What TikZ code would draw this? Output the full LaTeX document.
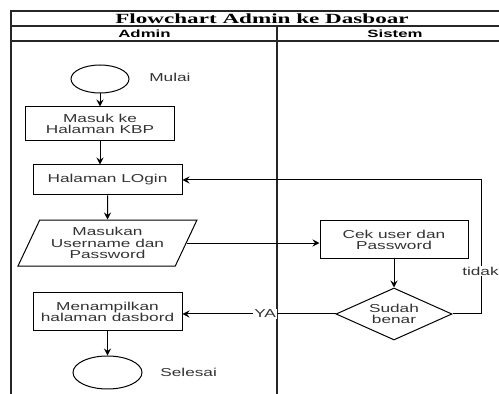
\documentclass[tikz,border=0pt]{standalone}
\usepackage{fontspec}
\newfontfamily\boxfont[FakeStretch=1.5]{Liberation Sans}
\newfontfamily\headfont[FakeStretch=1.6]{Liberation Sans}
\newfontfamily\titlefont[FakeStretch=1.65]{Liberation Serif}
\usetikzlibrary{positioning,arrows.meta,shapes.geometric}
\tikzset{
flow/.style={
    >={Stealth[length=7pt,width=7pt,inset=2.5pt]},
    x=1pt,
    y=1pt,
    line width=1pt,
    font=\boxfont\fontsize{11.5}{11.5}\selectfont,
    text=black!80
},
proc/.style={
    rectangle,
    draw,
    minimum width=149pt,
    align=center,
    inner sep=1pt
},
term/.style={
    ellipse,
    draw,
    inner sep=0pt
},
io/.style={
    trapezium,
    trapezium left angle=57,
    trapezium right angle=123,
    trapezium stretches body,
    draw,
    align=center,
    minimum width=179pt,
    minimum height=46pt,
    inner sep=1pt
},
check/.style={
    diamond,
    draw,
    aspect=2.3,
    align=center,
    minimum width=116pt,
    minimum height=52pt,
    inner sep=0pt
},
goes/.style={
    ->
},
lane/.style={
    line width=1.2pt,
    black!85
},
tag/.style={
    fill=white,
    inner sep=1pt
}}

\begin{document}
\begin{tikzpicture}[flow]
\useasboundingbox (0,0) rectangle (499,394);

% swimlane frame
\draw[lane, line width=2.5pt] (11,0) -- (11,384);
\draw[lane] (11,383) -- (499,383);
\draw[lane] (11,368) -- (499,368);
\draw[lane] (11,353) -- (499,353);
\draw[lane] (277,368) -- (277,0);
\node (judul)  at (262,375.5) {\titlefont\bfseries\fontsize{14}{14}\selectfont\color{black}Flowchart Admin ke Dasboar};
\node (admin)  at (144.5,360.5) {\headfont\bfseries\fontsize{10.5}{10.5}\selectfont\color{black}Admin};
\node (sistem) at (395,360.5)   {\headfont\bfseries\fontsize{10.5}{10.5}\selectfont\color{black}Sistem};

% admin lane
\node    (mulai)   [term, minimum width=58pt, minimum height=28pt] at (100,315) {};
\node    (mulaitx) [right=16pt of mulai, yshift=2pt]               {Mulai};
\node    (kbp)     [proc, minimum height=34pt, below=13pt of mulai] {Masuk ke\\Halaman KBP};
\node    (login)   [proc, minimum height=30pt, below=23pt of kbp, xshift=7.5pt] {Halaman LOgin};
\node    (input)   [io, below=24pt of login]                       {Masukan\\Username dan\\Password};
\node    (dasbor)  [proc, minimum height=38pt] at (107.5,82)       {Menampilkan\\halaman dasbord};
\node    (selesai) [term, minimum width=69pt, minimum height=33pt, below=24pt of dasbor] {};
\node    (selesaitx) [right=14pt of selesai]                      {Selesai};

% sistem lane
\node    (cek)     [proc, minimum width=148pt, minimum height=38pt] at (394,154) {Cek user dan\\Password};
\node    (benar)   [check, below=28pt of cek]                      {Sudah\\benar};

\path    (mulai)   edge[goes]    (kbp);
\draw[goes] (kbp.south) -- (kbp.south |- login.north);
\path    (login)   edge[goes]    (input);
\draw[goes] (input.east) -- (input.east -| cek.west);
\path    (cek)     edge[goes]    (benar);
\draw[goes] (benar.east) -- ++(29,0) |- (login.east)
    node[tag, pos=0.16, xshift=-1pt] {tidak};
\draw[goes] (benar.west) -- (benar.west -| dasbor.east)
    node[tag, pos=0.46] {YA};
\path    (dasbor)  edge[goes]    (selesai);
\end{tikzpicture}
\end{document}
